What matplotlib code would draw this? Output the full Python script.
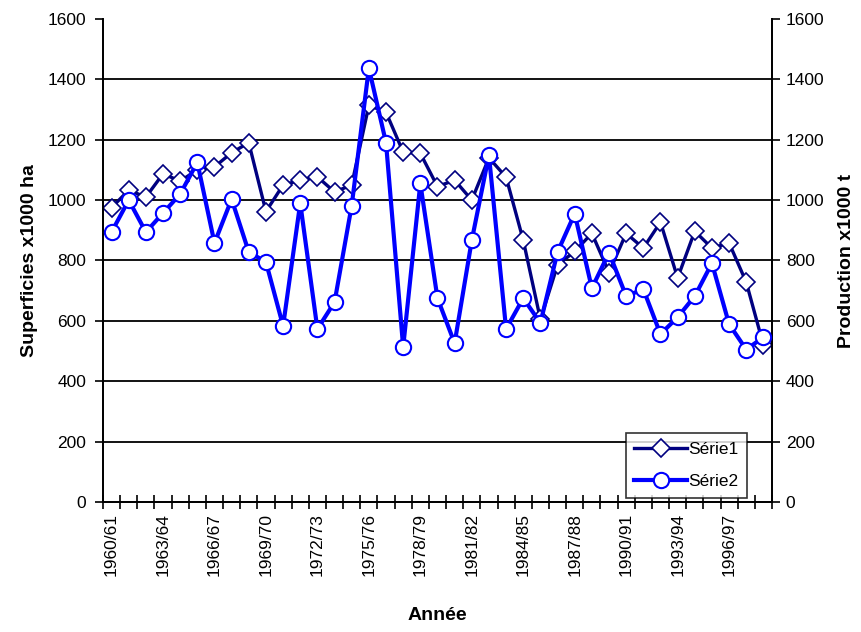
import matplotlib
matplotlib.use('Agg')
import matplotlib.pyplot as plt

# campagnes 1960/61 .. 1998/99
years = [f"{y}/{str(y + 1)[-2:]}" for y in range(1960, 1999)]

# Série1 : superficies (x1000 ha)
serie1 = [975, 1033, 1010, 1087, 1063, 1100, 1110, 1157, 1190, 962,
          1050, 1066, 1077, 1027, 1050, 1314, 1291, 1159, 1155, 1045,
          1066, 1000, 1140, 1076, 867, 605, 785, 830, 890, 760,
          890, 841, 927, 742, 897, 841, 858, 728, 520]

# Série2 : production (x1000 t)
serie2 = [894, 1000, 894, 957, 1020, 1125, 858, 1003, 828, 795,
          583, 990, 573, 662, 982, 1437, 1190, 513, 1055, 675,
          526, 867, 1149, 573, 675, 593, 828, 955, 708, 826,
          682, 705, 556, 612, 682, 791, 589, 505, 546]

plt.rcParams['font.family'] = ['Liberation Sans', 'DejaVu Sans']

fig = plt.figure(figsize=(8.61, 6.32), dpi=100)
ax = fig.add_axes([0.1196, 0.2057, 0.7770, 0.7643])
ax2 = ax.twinx()

x = list(range(len(years)))

# grid lines at 200..1400, black like excel
for v in range(200, 1600, 200):
    ax.axhline(v, color='black', lw=1.3, zorder=0)

l1, = ax.plot(x, serie1, color='#000080', lw=2.4, marker='D', ms=9.5,
              mfc='white', mec='#000080', mew=1.2, label='Série1', zorder=3)
l2, = ax2.plot(x, serie2, color='#0000FF', lw=3, marker='o', ms=11,
               mfc='white', mec='#0000FF', mew=1.5, label='Série2', zorder=3)

for a in (ax, ax2):
    a.set_ylim(0, 1600)
    a.set_xlim(-0.5, len(years) - 0.5)
    a.set_yticks(range(0, 1601, 200))
    a.spines['top'].set_visible(False)
    for s in a.spines.values():
        s.set_linewidth(1.3)
ax.patch.set_visible(False)

ax.tick_params(axis='y', direction='out', length=6, width=1.2, labelsize=12.5, pad=6)
ax2.tick_params(axis='y', direction='out', length=6, width=1.2, labelsize=12.5, pad=4)

# tick marks between categories, labels every 3 years at centres
ax.set_xticks([i - 0.5 for i in range(len(years) + 1)])
ax.set_xticklabels([])
ax.tick_params(axis='x', which='major', direction='inout', length=10, width=1.2)
ax.set_xticks(x[::3], minor=True)
ax.set_xticklabels(years[::3], minor=True, rotation=90, fontsize=12.5)
ax.tick_params(axis='x', which='minor', length=0, pad=8)

ax.set_ylabel('Superficies x1000 ha', fontsize=14, fontweight='bold', labelpad=7)
ax2.set_ylabel('Production x1000 t', fontsize=14, fontweight='bold', rotation=90, labelpad=10)
ax.set_xlabel('Année', fontsize=14, fontweight='bold', labelpad=22)

leg = ax2.legend(handles=[l1, l2], loc='lower right', bbox_to_anchor=(0.963, 0.008),
                 fontsize=12.5, frameon=True, fancybox=False, edgecolor='black',
                 handlelength=3.0, borderpad=0.5, handletextpad=0.1, labelspacing=1.0,
                 borderaxespad=0)
leg.get_frame().set_linewidth(1.2)

fig.savefig('out.png', dpi=100)
